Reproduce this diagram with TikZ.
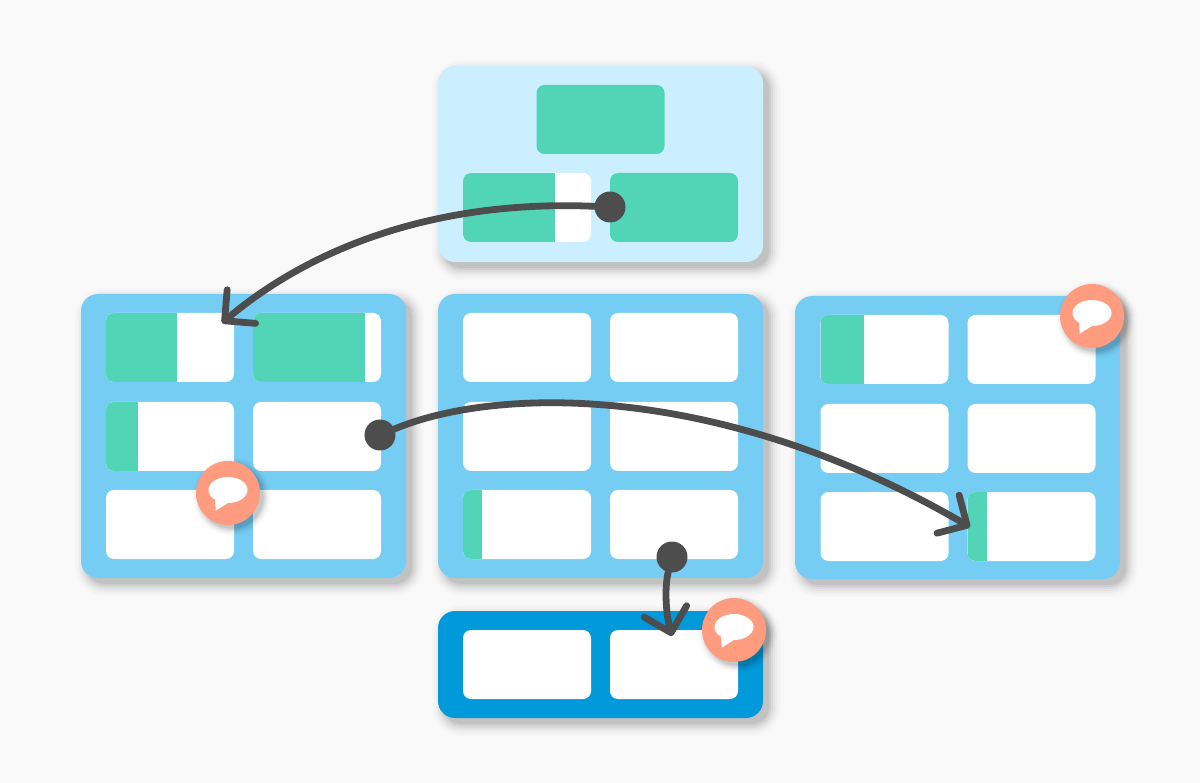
\documentclass[tikz,border=0pt]{standalone}
\usepackage{tikz}
\usetikzlibrary{arrows.meta,calc,positioning}

\definecolor{pagegray}{HTML}{F9F9F9}
\definecolor{palepanel}{HTML}{CCEFFF}
\definecolor{midpanel}{HTML}{75CDF3}
\definecolor{deeppanel}{HTML}{0099D9}
\definecolor{mint}{HTML}{52D5B6}
\definecolor{coral}{HTML}{FF9B7E}
\definecolor{inkgray}{HTML}{4D4D4D}

\tikzset{
	panel/.style={rounded corners=17pt,minimum width=325pt,inner sep=0pt,outer sep=0pt},
	cell/.style={fill=white,rounded corners=8pt,minimum width=128pt,minimum height=69pt,inner sep=0pt,outer sep=0pt},
	bar/.style={path picture={\fill[mint,sharp corners] (path picture bounding box.north west) rectangle ++(#1,69);}},
	dot/.style={circle,fill=inkgray,minimum size=31pt,inner sep=0pt,outer sep=0pt},
	badge/.style={circle,fill=coral,minimum size=64pt,inner sep=0pt,outer sep=0pt},
	flow/.style={draw=inkgray,line width=6.8pt,line cap=round,-{Straight Barb[round,length=22pt,width=44pt]}}
}

% blurred shadow: centre x, centre y, width, height, corner radius, spread
\newcommand{\softshade}[6]{
	\foreach \g/\o in {24/.012,20/.016,16/.022,12/.03,8/.04,4/.05,0/.06}{
		\pgfmathsetmacro{\h}{#6*\g/2}
		\pgfmathsetmacro{\s}{#6*6}
		\fill[black,opacity=\o,rounded corners={(#5+\h)*1pt}]
			({#1+\s-#3/2-\h},{#2+\s-#4/2-\h}) rectangle ({#1+\s+#3/2+\h},{#2+\s+#4/2+\h});
	}
}

% speech bubble on a coral badge
\newcommand{\chatbadge}[3]{
	\softshade{#2}{#3}{64}{64}{32}{.6}
	\node[badge] (#1) at (#2,#3) {};
	\begin{scope}[shift={(#1.center)}]
		\fill[white] (0,-3) ellipse [x radius=19.5,y radius=13];
		\fill[white] (-13,4) -- (-12.3,17.7) -- (2,8.7) -- cycle;
	\end{scope}
}

\begin{document}
\begin{tikzpicture}[x=1pt,y=-1pt,node distance=19pt]
	\fill[pagegray,use as bounding box] (0,0) rectangle (1200,783);

	% panels
	\softshade{600.5}{164}{325}{196}{17}{1}
	\softshade{243.5}{436}{325}{284}{17}{1}
	\softshade{600.5}{436}{325}{284}{17}{1}
	\softshade{957.5}{437.5}{325}{283}{17}{1}
	\softshade{600.5}{664.5}{325}{107}{17}{1}
	\node[panel,fill=palepanel,minimum height=196pt] (top) at (600.5,164) {};
	\node[panel,fill=midpanel,minimum height=284pt] (left) at (243.5,436) {};
	\node[panel,fill=midpanel,minimum height=284pt] (mid) at (600.5,436) {};
	\node[panel,fill=midpanel,minimum height=283pt] (right) at (957.5,437.5) {};
	\node[panel,fill=deeppanel,minimum height=107pt] (bottom) at (600.5,664.5) {};

	% top panel
	\node[cell,fill=mint] (top0) at (600.5,119.5) {};
	\node[cell,bar=92] (top1) at (527,207.5) {};
	\node[cell,fill=mint,right=of top1] (top2) {};

	% left panel
	\node[cell,bar=71] (l11) at (170,347.5) {};
	\node[cell,bar=112,right=of l11] (l12) {};
	\node[cell,bar=32,below=20pt of l11] (l21) {};
	\node[cell,right=of l21] (l22) {};
	\node[cell,below=of l21] (l31) {};
	\node[cell,right=of l31] (l32) {};

	% middle panel
	\node[cell] (m11) at (527,347.5) {};
	\node[cell,right=of m11] (m12) {};
	\node[cell,below=20pt of m11] (m21) {};
	\node[cell,right=of m21] (m22) {};
	\node[cell,bar=19,below=of m21] (m31) {};
	\node[cell,right=of m31] (m32) {};

	% right panel
	\node[cell,bar=43] (r11) at (884.5,349.5) {};
	\node[cell,right=of r11] (r12) {};
	\node[cell,below=20pt of r11] (r21) {};
	\node[cell,right=of r21] (r22) {};
	\node[cell,below=of r21] (r31) {};
	\node[cell,bar=19,right=of r31] (r32) {};

	% bottom panel
	\node[cell] (b1) at (527,664.5) {};
	\node[cell,right=of b1] (b2) {};

	% connectors
	\node[dot] (dotA) at (610,207) {};
	\node[dot] (dotB) at (380,435) {};
	\node[dot] (dotC) at (672,557) {};
	\coordinate (tipA) at (222,323);
	\coordinate (tipB) at (970,527);
	\coordinate (tipC) at (672,636);
	\draw[flow] (dotA) .. controls (450,200) and (320,240) .. (tipA);
	\draw[flow] (dotB) .. controls (500,385) and (725,384) .. (tipB);
	\draw[flow] (dotC) .. controls (665,585) and (665,610) .. (tipC);

	% comments
	\chatbadge{chatL}{228}{493}
	\chatbadge{chatR}{1092}{316}
	\chatbadge{chatB}{734}{630}
\end{tikzpicture}
\end{document}
